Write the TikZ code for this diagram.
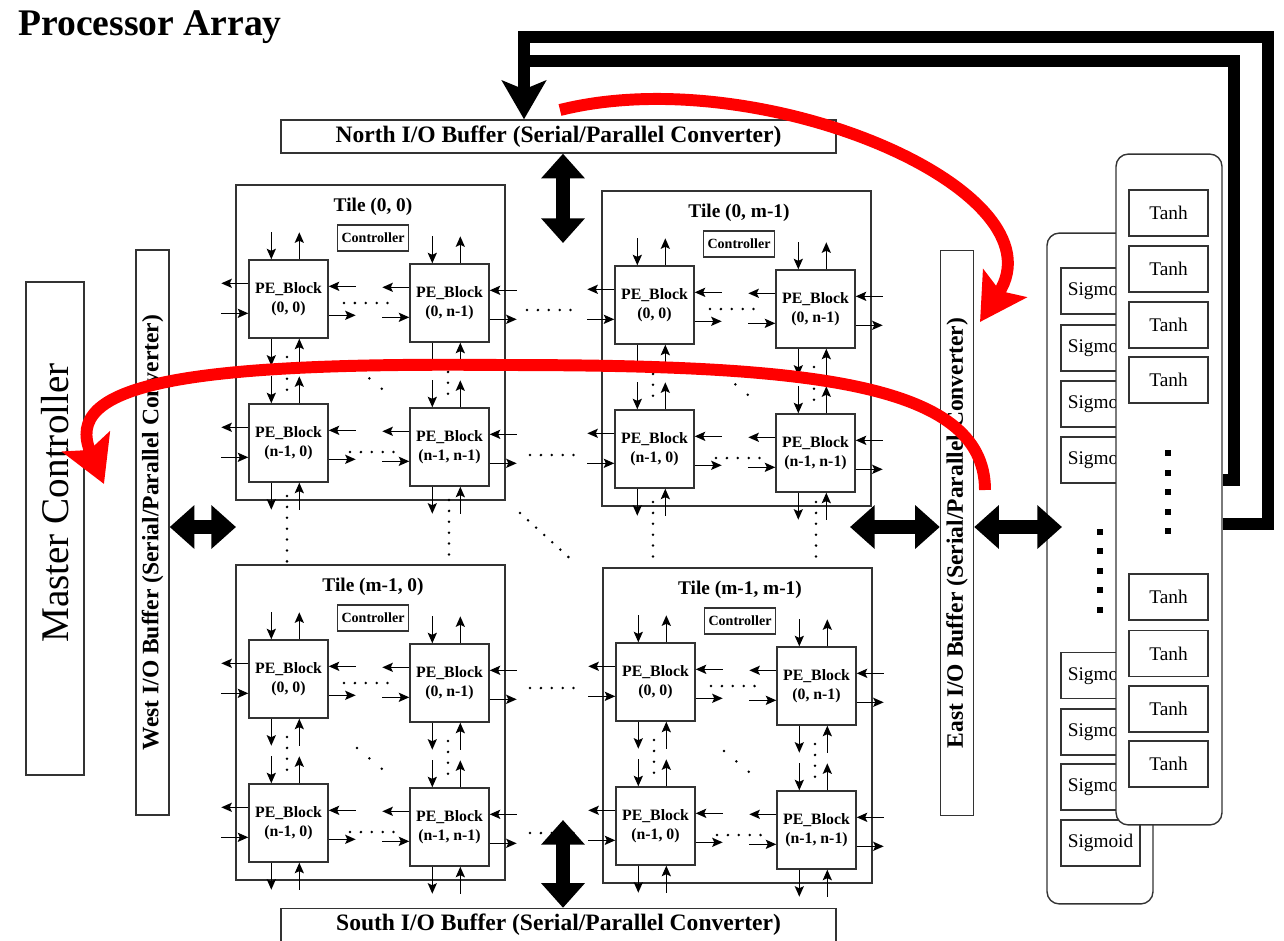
\documentclass[tikz,border=0pt]{standalone}
\usepackage{fontspec}
\setmainfont{Liberation Serif}
\usetikzlibrary{arrows.meta}

% the eight short in/out arrows round one PE block
\newcommand{\pestubs}[1]{%
	\draw[arr] ([shift={(23,-27)}]#1.north west) -- ([shift={(23,0)}]#1.north west);
	\draw[arr] ([shift={(51,0)}]#1.north west) -- ([shift={(51,-27)}]#1.north west);
	\draw[arr] ([shift={(23,0)}]#1.south west) -- ([shift={(23,27)}]#1.south west);
	\draw[arr] ([shift={(51,27)}]#1.south west) -- ([shift={(51,0)}]#1.south west);
	\draw[arr] ([shift={(0,24)}]#1.north west) -- ([shift={(-27,24)}]#1.north west);
	\draw[arr] ([shift={(-27,54)}]#1.north west) -- ([shift={(0,54)}]#1.north west);
	\draw[arr] ([shift={(27,27)}]#1.north east) -- ([shift={(0,27)}]#1.north east);
	\draw[arr] ([shift={(0,56)}]#1.north east) -- ([shift={(27,56)}]#1.north east);
}

% one tile: name, left, top, title
\newcommand{\drawtile}[4]{%
	\begin{scope}[shift={(#2,#3)}]
		\node[tilebox] (#1) at (134.5,157.5) {};
		\node[tiletitle] (#1-title) at (137,22) {#4};
		\node[ctrlbox] (#1-ctrl) at (137,53) {Controller};
		\node[pebox] (#1-pe00) at (52.5,114) {PE\_Block\\(0, 0)};
		\node[pebox] (#1-pe0n) at (213.5,118) {PE\_Block\\(0, n-1)};
		\node[pebox] (#1-pen0) at (52.5,258) {PE\_Block\\(n-1, 0)};
		\node[pebox] (#1-penn) at (213.5,262) {PE\_Block\\(n-1, n-1)};
		\foreach \pname in {pe00,pe0n,pen0,penn} {\pestubs{#1-\pname}}
		% ellipsis dots inside the tile
		\draw[dots] (108,118) -- (152,118);
		\draw[dots] (114,267) -- (158,267);
		\draw[dots] (51,172) -- (51,205);
		\draw[dots] (212,176) -- (212,209);
		\draw[dots, dash pattern=on 0pt off 9.2pt] (121,183) -- (146,204);
	\end{scope}}

\begin{document}
\begin{tikzpicture}[
	x=0.02cm, y=-0.02cm,
	tilebox/.style={
		draw=black!80, line width=0.8pt, rectangle,
		minimum width=5.38cm, minimum height=6.3cm, inner sep=0pt
	},
	tiletitle/.style={font=\bfseries\fontsize{11}{13}\selectfont, inner sep=0pt},
	ctrlbox/.style={
		draw=black!80, line width=0.8pt, rectangle,
		minimum width=1.42cm, minimum height=0.52cm, inner sep=0pt,
		font=\bfseries\fontsize{8}{9}\selectfont
	},
	pebox/.style={
		draw=black!80, line width=0.8pt, rectangle,
		minimum width=1.58cm, minimum height=1.56cm, inner sep=0pt,
		font=\bfseries\fontsize{9}{10.5}\selectfont, align=center
	},
	bufbox/.style={
		draw=black!80, line width=0.8pt, rectangle, fill=white,
		minimum width=11.1cm, minimum height=0.66cm, inner sep=0pt,
		font=\bfseries\fontsize{13.4}{16}\selectfont
	},
	sidebuf/.style={bufbox, rotate=90, minimum width=11.3cm},
	panel/.style={
		draw=black!80, line width=0.8pt, rectangle, fill=white,
		rounded corners=7pt, minimum width=2.12cm, minimum height=13.42cm
	},
	fnbox/.style={
		draw=black!80, line width=0.8pt, rectangle, fill=white,
		minimum width=1.58cm, minimum height=0.92cm, inner sep=0pt,
		font=\fontsize{11}{13}\selectfont
	},
	arr/.style={-{Stealth[length=6pt,width=5.2pt,inset=1.2pt]}, line width=0.8pt},
	dots/.style={line width=1.6pt, line cap=round, dash pattern=on 0pt off 6.2pt},
	bigarr/.style={{Triangle[length=14pt,width=24pt]}-{Triangle[length=14pt,width=24pt]}, line width=8.5pt},
	fbline/.style={line width=7.1pt, line join=miter},
	redarr/.style={draw=red, line width=6.8pt, -{Stealth[length=26pt,width=29pt,inset=5pt]}},
	]
	\useasboundingbox (0,0) rectangle (1284,940);
	
	\node[anchor=base west, inner sep=0pt, font=\bfseries\fontsize{21.4}{26}\selectfont] (title) at (18,35) {Processor Array};
	
	% tiles
	\drawtile{T00}{236}{185}{Tile (0, 0)}
	\drawtile{T0m}{602}{191}{Tile (0, m-1)}
	\drawtile{Tm0}{236}{565}{Tile (m-1, 0)}
	\drawtile{Tmm}{603}{568}{Tile (m-1, m-1)}
	
	% ellipsis dots between tiles
	\draw[dots] (287,496) -- (287,562);
	\draw[dots] (449,500) -- (449,555);
	\draw[dots] (653,502) -- (653,557);
	\draw[dots] (816,502) -- (816,557);
	\draw[dots] (520,513) -- (575,563);
	\draw[dots] (527,310) -- (571,310);
	\draw[dots] (530,455) -- (574,455);
	\draw[dots] (530,688) -- (574,688);
	\draw[dots] (530,833) -- (574,833);
	
	% I/O buffers and master controller
	\node[bufbox] (nbuf) at (558.5,136.5) {North I/O Buffer (Serial/Parallel Converter)};
	\node[bufbox] (sbuf) at (558.5,925) {South I/O Buffer (Serial/Parallel Converter)};
	\node[sidebuf] (wbuf) at (152.5,532.5) {West I/O Buffer (Serial/Parallel Converter)};
	\node[sidebuf] (ebuf) at (957,533) {East I/O Buffer (Serial/Parallel Converter)};
	\node[draw=black!80, line width=0.8pt, minimum width=1.16cm, minimum height=9.86cm] (master) at (55,528.5) {};
	\node[rotate=90, font=\fontsize{22.3}{27}\selectfont] (mastertext) at (55,503) {Master Controller};
	
	% activation function units
	\node[panel] (sigpanel) at (1100,568.5) {};
	\foreach \i/\yy in {1/291,2/348,3/404,4/460,5/675.5,6/732,7/787,8/843}
		\node[fnbox] (sig\i) at (1100.5,\yy) {Sigmoid};
	\foreach \yy in {532,551,571,590,610}
		\fill (1097,\yy-3) rectangle ++(6,6);
	\node[panel] (tanhpanel) at (1169,489.5) {};
	\foreach \i/\yy in {1/213,2/269,3/325,4/380,5/597,6/653.5,7/709,8/764}
		\node[fnbox] (tanh\i) at (1168.5,\yy) {Tanh};
	\foreach \yy in {453,473,492,512,531}
		\fill (1165,\yy-3) rectangle ++(6,6);
	
	% thick data paths
	\coordinate (nend) at (563,243);
	\coordinate (send) at (563,820);
	\coordinate (wend) at (236,527);
	\coordinate (eend) at (850,527);
	\coordinate (pend) at (1062,527);
	\draw[bigarr] (nbuf.south -| nend) -- (nend);
	\draw[bigarr] (send) -- (sbuf.north -| send);
	\draw[bigarr] (wbuf.south |- wend) -- (wend);
	\draw[bigarr] (eend) -- (ebuf.north |- eend);
	\draw[bigarr] (ebuf.south |- pend) -- (pend);
	
	% feedback from the activation units to the north buffer
	\coordinate (fbo1) at (1268,524);
	\coordinate (fbo2) at (524,37);
	\coordinate (fbi1) at (1234,480);
	\coordinate (fbi2) at (524,61);
	\draw[fbline] (tanhpanel.east |- fbi1) -- (fbi1) |- (fbi2);
	\draw[fbline, -{Stealth[length=22pt,width=25pt,inset=5pt]}] (tanhpanel.east |- fbo1) -- (fbo1) |- (fbo2) -- (nbuf.north -| fbo2);
	
	% red flow arrows
	\coordinate (ra) at (560,110);
	\coordinate (rb) at (980,322);
	\coordinate (rc) at (985,490);
	\coordinate (rd) at (104,484);
	\draw[redarr] (ra) .. controls (760,60) and (1065,190) .. (rb);
	\draw[redarr] (rc) .. controls (985,380) and (800,365) .. (500,365)
		.. controls (180,362) and (62,385) .. (rd);
	
\end{tikzpicture}
\end{document}
